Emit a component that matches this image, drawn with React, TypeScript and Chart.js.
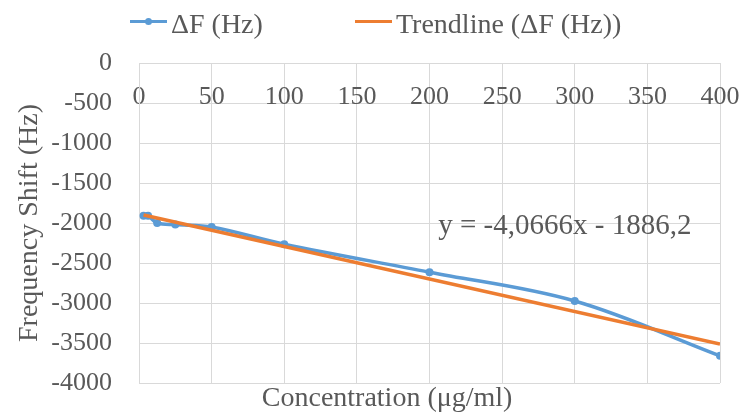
import React, { useEffect, useRef } from "react";
import { Chart, registerables } from "chart.js";

Chart.register(...registerables);

// ---- data ----
const concentrations = [3.125, 6.25, 12.5, 25, 50, 100, 200, 300, 400];
const frequencyShift = [-1910, -1910, -2000, -2020, -2050, -2265, -2615, -2975, -3660];
const trendConcentrations = [3.125, 400];
const trendFrequencyShift = [-1899, -3513];

const xTickMin = 0;
const xTickMax = 400;
const xTickStep = 50;
const yTickMin = -4000;
const yTickMax = 0;
const yTickStep = 500;

const seriesLabel = "ΔF (Hz)";
const trendLabel = "Trendline (ΔF (Hz))";
const equationLabel = "y = -4,0666x - 1886,2";
const xAxisTitle = "Concentration (μg/ml)";
const yAxisTitle = "Frequency Shift (Hz)";

// ---- styles ----
const BLUE = "#5B9BD5";
const ORANGE = "#ED7D31";
const TEXT = "#595959";
const GRID = "#D9D9D9";
const FONT = '"Liberation Serif", "Times New Roman", serif';

const annotationPlugin = {
  id: "annotationText",
  afterDraw(chart: any) {
    const { ctx, scales, chartArea } = chart;
    ctx.save();
    ctx.fillStyle = TEXT;
    ctx.textBaseline = "middle";
    ctx.textAlign = "left";
    ctx.font = `29px ${FONT}`;
    ctx.fillText(equationLabel, scales.x.getPixelForValue(206), scales.y.getPixelForValue(-2037));
    ctx.font = `28px ${FONT}`;
    ctx.textAlign = "center";
    ctx.fillText(
      xAxisTitle,
      chartArea.left + (chartArea.right - chartArea.left) * 0.427,
      chartArea.bottom + 16
    );
    ctx.restore();
  },
};

export default function App() {
  const canvasRef = useRef<HTMLCanvasElement | null>(null);

  useEffect(() => {
    if (!canvasRef.current) return;
    const chart = new Chart(canvasRef.current, {
      type: "line",
      data: {
        datasets: [
          {
            label: seriesLabel,
            data: concentrations.map((x, i) => ({ x, y: frequencyShift[i] })),
            borderColor: BLUE,
            backgroundColor: BLUE,
            borderWidth: 3.5,
            pointRadius: 4,
            pointBackgroundColor: BLUE,
            pointBorderColor: BLUE,
            pointBorderWidth: 0,
            tension: 0.35,
            order: 1,
          },
          {
            label: trendLabel,
            data: trendConcentrations.map((x, i) => ({ x, y: trendFrequencyShift[i] })),
            borderColor: ORANGE,
            backgroundColor: ORANGE,
            borderWidth: 3.5,
            pointRadius: 0,
            tension: 0,
            order: 0,
          },
        ],
      },
      options: {
        animation: false,
        responsive: false,
        events: [],
        layout: { padding: { left: 0, right: 25, top: 63, bottom: 34 } },
        plugins: {
          legend: { display: false },
          tooltip: { enabled: false },
        },
        scales: {
          x: {
            type: "linear",
            position: { y: 0 } as any,
            min: xTickMin,
            max: xTickMax,
            ticks: {
              stepSize: xTickStep,
              color: TEXT,
              font: { family: FONT, size: 26 },
              padding: 19,
              maxRotation: 0,
              callback: (v: any) => String(v),
            },
            grid: { color: GRID, lineWidth: 1, drawTicks: false },
            border: { display: true, color: GRID, width: 1 },
            afterFit: (scale: any) => {
              scale.paddingLeft = 0;
              scale.paddingRight = 0;
            },
          },
          y: {
            type: "linear",
            position: "left",
            min: yTickMin,
            max: yTickMax,
            ticks: {
              stepSize: yTickStep,
              color: TEXT,
              font: { family: FONT, size: 26 },
              padding: 27,
              callback: (v: any) => String(v),
            },
            grid: { color: GRID, lineWidth: 1, drawTicks: false },
            border: { display: true, color: GRID, width: 1 },
            title: {
              display: true,
              text: yAxisTitle,
              color: TEXT,
              font: { family: FONT, size: 28 },
              padding: { top: 13, bottom: 0 },
            },
            afterFit: (scale: any) => {
              scale.width = 139;
              scale.paddingTop = 0;
              scale.paddingBottom = 0;
            },
          },
        },
      },
      plugins: [annotationPlugin],
    });
    return () => chart.destroy();
  }, []);

  const textStyle: React.CSSProperties = {
    fontFamily: FONT,
    fontSize: 28,
    color: TEXT,
    whiteSpace: "nowrap",
    marginLeft: 4,
  };

  const item = (left: number, color: string, dot: boolean, label: string) => (
    <div
      style={{
        position: "absolute",
        left,
        top: 0,
        height: 48,
        display: "flex",
        alignItems: "center",
      }}
    >
      <span
        style={{
          position: "relative",
          top: -3,
          display: "inline-block",
          width: 37,
          height: 3,
          background: color,
        }}
      >
        {dot && (
          <span
            style={{
              position: "absolute",
              left: 15,
              top: -2,
              width: 7,
              height: 7,
              borderRadius: "50%",
              background: color,
            }}
          />
        )}
      </span>
      <span style={textStyle}>{label}</span>
    </div>
  );

  return (
    <div style={{ position: "absolute", left: 0, top: 0, width: 745, height: 417, background: "#fff" }}>
      <canvas ref={canvasRef} width={745} height={417} style={{ display: "block", width: 745, height: 417 }} />
      {item(130, BLUE, true, seriesLabel)}
      {item(355, ORANGE, false, trendLabel)}
    </div>
  );
}
